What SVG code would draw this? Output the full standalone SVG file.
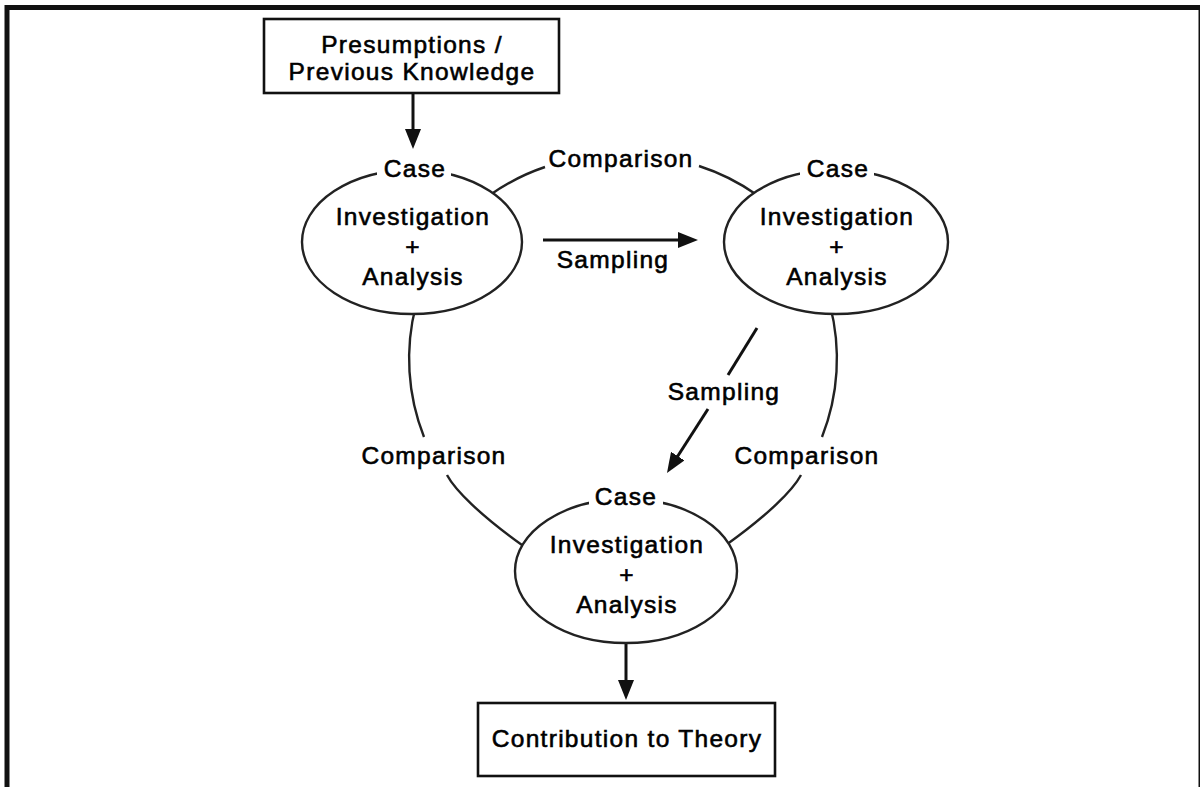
<svg xmlns="http://www.w3.org/2000/svg" width="1200" height="787" viewBox="0 0 1200 787">
<defs>
<style>
.t{font-family:"Liberation Sans",Arial,sans-serif;font-size:24.5px;letter-spacing:1.3px;fill:#000;stroke:#000;stroke-width:0.6px;text-anchor:middle}
.box{fill:#fff;stroke:#111;stroke-width:2.6}
.ell{fill:#fff;stroke:#222;stroke-width:2.4}
.arc{fill:none;stroke:#222;stroke-width:2.4}
.arr{fill:none;stroke:#111;stroke-width:3}
.gap{fill:#fff;stroke:none}
</style>
<marker id="ah" markerWidth="20" markerHeight="16" refX="2" refY="8" orient="auto" markerUnits="userSpaceOnUse">
<path d="M0,0 L20,8 L0,16 z" fill="#111"/>
</marker>
</defs>
<rect width="1200" height="787" fill="#fff"/>
<rect x="7" y="7.5" width="1194" height="790" fill="none" stroke="#111" stroke-width="5"/>

<g id="connectors">
<path class="arc" d="M490,195 A213,213 0 0 1 545,167"/>
<path class="arc" d="M699,166 A213,213 0 0 1 757,195"/>
<path class="arc" d="M416,305 A213,213 0 0 0 424,437"/>
<path class="arc" d="M830,305 A213,213 0 0 1 822,437"/>
<path class="arc" d="M447,475 C455,490 480,515 522,545"/>
<path class="arc" d="M801,475 C793,490 768,515 726,545"/>
<line class="arr" x1="413" y1="93" x2="413" y2="131" marker-end="url(#ah)"/>
<line class="arr" x1="543" y1="240" x2="680" y2="240" marker-end="url(#ah)"/>
<line class="arr" x1="757" y1="328" x2="728" y2="375"/>
<line class="arr" x1="708" y1="409" x2="676.7" y2="457.8" marker-end="url(#ah)"/>
<line class="arr" x1="626" y1="643" x2="626" y2="682" marker-end="url(#ah)"/>
<text class="t" x="621" y="167">Comparison</text>
<text class="t" x="434" y="464">Comparison</text>
<text class="t" x="807" y="464">Comparison</text>
<text class="t" x="613" y="268">Sampling</text>
<text class="t" x="724" y="400">Sampling</text>
</g>

<g id="presumptions">
<rect class="box" x="264" y="19" width="295" height="74"/>
<text class="t" x="412" y="53">Presumptions /</text>
<text class="t" x="412" y="80">Previous Knowledge</text>
</g>

<g id="case1">
<ellipse class="ell" cx="412" cy="242" rx="110" ry="72"/>
<rect class="gap" x="377" y="158" width="74" height="22"/>
<text class="t" x="415" y="177">Case</text>
<text class="t" x="413" y="225">Investigation</text>
<text class="t" x="413" y="255">+</text>
<text class="t" x="413" y="285">Analysis</text>
</g>

<g id="case2">
<ellipse class="ell" cx="836" cy="242" rx="112" ry="72"/>
<rect class="gap" x="800" y="158" width="74" height="22"/>
<text class="t" x="838" y="177">Case</text>
<text class="t" x="837" y="225">Investigation</text>
<text class="t" x="837" y="255">+</text>
<text class="t" x="837" y="285">Analysis</text>
</g>

<g id="case3">
<ellipse class="ell" cx="626" cy="571" rx="111" ry="72"/>
<rect class="gap" x="589" y="488" width="74" height="22"/>
<text class="t" x="626" y="505">Case</text>
<text class="t" x="627" y="553">Investigation</text>
<text class="t" x="627" y="583">+</text>
<text class="t" x="627" y="613">Analysis</text>
</g>

<g id="contribution">
<rect class="box" x="478" y="703" width="297" height="73"/>
<text class="t" x="627" y="747">Contribution to Theory</text>
</g>
</svg>
